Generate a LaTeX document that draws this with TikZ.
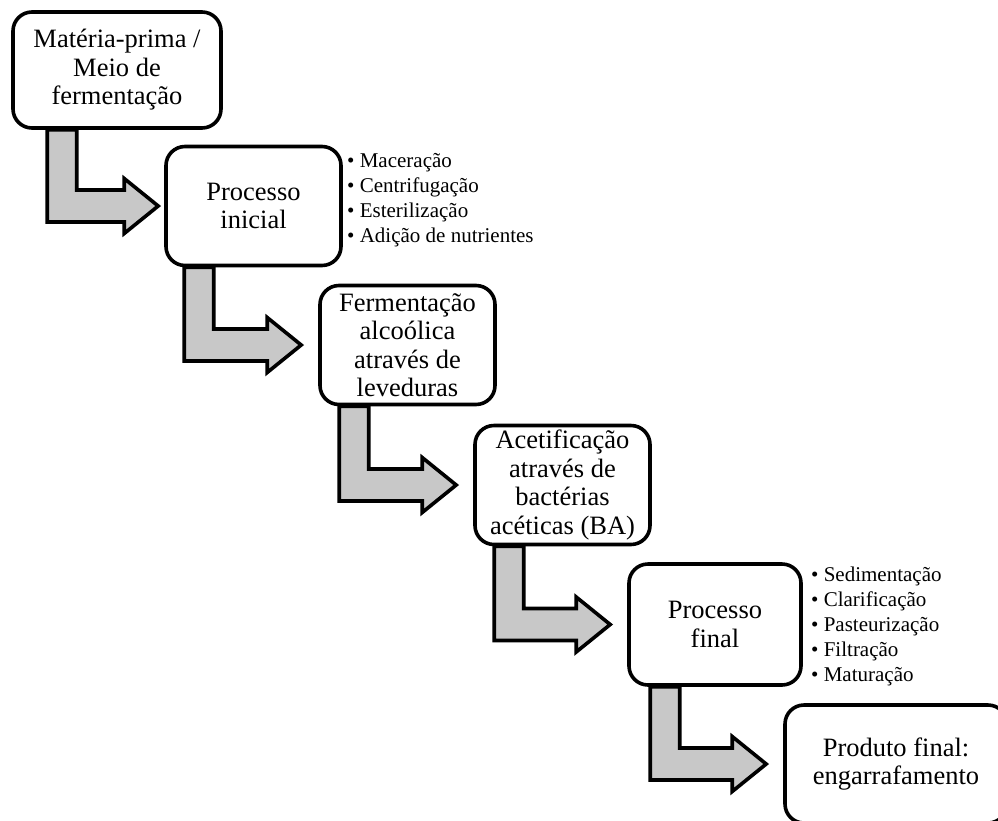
\documentclass[tikz,border=0pt]{standalone}
\usepackage{fontspec}
\setmainfont{Liberation Serif}
\usetikzlibrary{calc}
\definecolor{stemgray}{HTML}{C8C8C8}
\begin{document}
\begin{tikzpicture}[x=1pt,y=-1pt,
        stage/.style={draw,rounded corners=19pt,line width=3.6pt,fill=white,align=center,inner sep=2pt,
            minimum width=175pt,minimum height=119pt,font=\fontsize{26.5}{28.5}\selectfont},
        notes/.style={anchor=west,align=left,inner sep=0pt,font=\fontsize{21}{25}\selectfont},
        bent/.style={draw,line width=3.6pt,fill=stemgray,miter limit=10}]
        \useasboundingbox (0,0) rectangle (998,820);
        \clip (0,0) rectangle (998,820);
        \node[stage,minimum width=208pt,minimum height=116pt] (raw) at (117,70) {Matéria-prima /\\Meio de\\fermentação};
        \node[stage] (start) at (253.5,206) {Processo\\inicial};
        \node[stage] (yeast) at (407.5,345) {Fermentação\\alcoólica\\através de\\leveduras};
        \node[stage] (acetic) at (562.5,485) {Acetificação\\através de\\bactérias\\acéticas (BA)};
        \node[stage,minimum width=172pt,minimum height=121pt] (finish) at (715,624.5) {Processo\\final};
        \node[stage,minimum width=222pt,minimum height=118pt] (bottle) at (896,764) {Produto final:\\engarrafamento};
        \node[notes] (startsteps) at (347,200) {• Maceração\\• Centrifugação\\• Esterilização\\• Adição de nutrientes};
        \node[notes] (finishsteps) at (811,626) {• Sedimentação\\• Clarificação\\• Pasteurização\\• Filtração\\• Maturação};
        \foreach \a/\b/\d/\g in {raw/start/36/6,start/yeast/20/17,yeast/acetic/21/17,acetic/finish/21/17,finish/bottle/23/17}
            \draw[bent] let \p1=(\a.south west), \p2=(\b.west) in
                (\x1+\d*1pt,\y1) -- (\x1+\d*1pt+29.5pt,\y1) -- (\x1+\d*1pt+29.5pt,\y2+16pt)
                -- (\x2-\g*1pt-34pt,\y2+16pt) -- (\x2-\g*1pt-34pt,\y2+27.5pt) -- (\x2-\g*1pt,\y2)
                -- (\x2-\g*1pt-34pt,\y2-27.5pt) -- (\x2-\g*1pt-34pt,\y2-16pt) -- (\x1+\d*1pt,\y2-16pt) -- cycle;
\end{tikzpicture}
\end{document}
